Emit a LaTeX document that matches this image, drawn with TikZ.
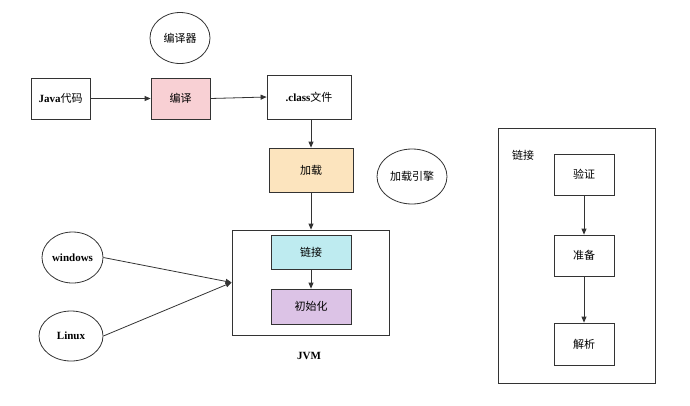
\documentclass[tikz,border=0pt]{standalone}
\usepackage{fontspec}
\setmainfont{Liberation Serif}
\newfontfamily\cjk{Noto Sans CJK SC}
\newfontfamily\latb{Liberation Serif}
\usetikzlibrary{arrows.meta,shapes.geometric}
\definecolor{pinkf}{HTML}{F8D0D4}
\definecolor{orangef}{HTML}{FCE4BE}
\definecolor{cyanf}{HTML}{BEEBF0}
\definecolor{purplef}{HTML}{DCC3E6}
\definecolor{linec}{HTML}{333333}
\newcommand{\lb}[1]{{\latb\bfseries #1}}
\tikzset{
  box/.style={draw=linec, line width=0.8pt, rectangle, inner sep=0pt, font=\cjk\fontsize{11}{13}\selectfont},
  oval/.style={draw=linec, line width=0.8pt, ellipse, inner sep=0pt, font=\cjk\fontsize{11}{13}\selectfont},
  conn/.style={draw=linec, line width=0.8pt, -{Triangle[length=6pt,width=5pt]}},
  lat/.style={font=\bfseries\fontsize{11}{13}\selectfont}
}
\begin{document}
\begin{tikzpicture}[x=1pt,y=-1pt]
\useasboundingbox (0,0) rectangle (690,405);
% top row
\node[oval, minimum width=60pt, minimum height=51pt] (compiler) at (180,38) {编译器};
\node[box, minimum width=59pt, minimum height=41pt] (java) at (60.5,98.5) {\lb{Java}代码};
\node[box, fill=pinkf, minimum width=59pt, minimum height=41pt] (compile) at (180.5,98.5) {编译};
\node[box, minimum width=84pt, minimum height=44pt] (class) at (309,97) {\lb{.class}文件};
\node[box, fill=orangef, minimum width=84pt, minimum height=44pt] (load) at (311,170) {加载};
\node[oval, minimum width=70pt, minimum height=55pt] (engine) at (412,176.5) {加载引擎};
% JVM
\node[draw=linec, line width=0.8pt, rectangle, minimum width=157pt, minimum height=105pt, inner sep=0pt] (jvm) at (310.5,282.5) {};
\node[box, fill=cyanf, minimum width=80pt, minimum height=34pt] (link) at (311,252) {链接};
\node[box, fill=purplef, minimum width=80pt, minimum height=35pt] (init) at (311,306.5) {初始化};
\node[lat] (jvmlabel) at (309,356) {JVM};
% OS
\node[oval, minimum width=61pt, minimum height=51pt, font=\bfseries\fontsize{11}{13}\selectfont] (win) at (72.5,257.5) {windows};
\node[oval, minimum width=64pt, minimum height=50pt, font=\bfseries\fontsize{11}{13}\selectfont] (linux) at (71,336) {Linux};
\coordinate (meet) at (jvm.west);
% right panel
\node[draw=linec, line width=0.8pt, rectangle, minimum width=157pt, minimum height=255pt, inner sep=0pt] (panel) at (576.5,255.5) {};
\node[font=\cjk\fontsize{11}{13}\selectfont] (paneltitle) at (523,155) {链接};
\node[box, minimum width=60pt, minimum height=41pt] (verify) at (584,174.5) {验证};
\node[box, minimum width=60pt, minimum height=41pt] (prepare) at (584,255.5) {准备};
\node[box, minimum width=60pt, minimum height=42pt] (resolve) at (584,344) {解析};
% connectors
\draw[conn] (java) -- (compile);
\draw[conn] (compile.east) -- (class.west);
\draw[conn] (class.south -| load) -- (load.north);
\draw[conn] (load) -- (load |- jvm.north);
\draw[conn] (link) -- (init);
\draw[conn] (win.east) -- (meet);
\draw[conn] (linux.east) -- (meet);
\draw[conn] (verify) -- (prepare);
\draw[conn] (prepare) -- (resolve);
\end{tikzpicture}
\end{document}
